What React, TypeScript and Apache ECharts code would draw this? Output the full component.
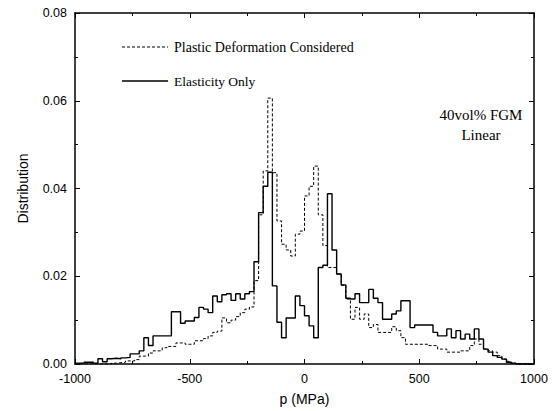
import React, { useEffect, useRef } from "react";
import * as echarts from "echarts";

// Histogram bins: 20 MPa wide, from -1000 to 1000 MPa (left edges)
const binStart = -1000;
const binWidth = 20;

const elasticityOnly: number[] = [
  0.0002, 0.0002, 0.0004, 0.0004, 0.0002, 0.0012, 0.0005, 0.0012, 0.0013, 0.0012,
  0.0014, 0.0015, 0.0023, 0.0023, 0.003, 0.006, 0.0042, 0.0064, 0.0064, 0.0064,
  0.0064, 0.0119, 0.0119, 0.0093, 0.0098, 0.0098, 0.0106, 0.0129, 0.0125, 0.0117,
  0.0155, 0.0142, 0.0158, 0.016, 0.0145, 0.016, 0.0148, 0.016, 0.0165, 0.0233,
  0.0345, 0.0405, 0.0437, 0.0178, 0.0095, 0.006, 0.0105, 0.0105, 0.0155, 0.0133,
  0.011, 0.0087, 0.006, 0.022, 0.0225, 0.0388, 0.026, 0.0205, 0.018, 0.015,
  0.0148, 0.016, 0.014, 0.014, 0.017, 0.015, 0.014, 0.0102, 0.0102, 0.0114,
  0.0121, 0.0144, 0.0144, 0.0083, 0.0089, 0.0089, 0.0089, 0.0089, 0.0072, 0.0064,
  0.0064, 0.008, 0.006, 0.0076, 0.0057, 0.0068, 0.0057, 0.008, 0.0057, 0.0034,
  0.0027, 0.0019, 0.0015, 0.0011, 0.0004, 0.0002, 0, 0, 0, 0,
];

const plasticConsidered: number[] = [
  0, 0, 0, 0, 0, 0, 0, 0, 0.0002, 0.0003,
  0.0004, 0.0007, 0.0007, 0.001, 0.0018, 0.0018, 0.0025, 0.003, 0.003, 0.0037,
  0.004, 0.004, 0.0048, 0.0048, 0.0045, 0.0045, 0.0053, 0.0053, 0.0058, 0.0064,
  0.0072, 0.0075, 0.0105, 0.0094, 0.01, 0.0108, 0.0117, 0.0125, 0.013, 0.019,
  0.034, 0.044, 0.0606, 0.0436, 0.0326, 0.0273, 0.026, 0.0246, 0.0296, 0.0303,
  0.0383, 0.0405, 0.0451, 0.034, 0.027, 0.022, 0.022, 0.0205, 0.018, 0.0148,
  0.0102, 0.0129, 0.0102, 0.0114, 0.0083, 0.009, 0.0072, 0.0072, 0.0072, 0.0085,
  0.0076, 0.006, 0.0045, 0.0045, 0.0045, 0.0045, 0.0045, 0.0042, 0.0042, 0.0034,
  0.0034, 0.0027, 0.0027, 0.0027, 0.003, 0.003, 0.0042, 0.0057, 0.0045, 0.0034,
  0.003, 0.0027, 0.0019, 0.0011, 0.0006, 0.0002, 0, 0, 0, 0,
];

const xTicks = [-1000, -500, 0, 500, 1000];
const yTicks = [0, 0.02, 0.04, 0.06, 0.08];

const legendLabels = ["Plastic Deformation Considered", "Elasticity Only"];
const annotation = ["40vol% FGM", "Linear"];

function toSteps(values: number[]): [number, number][] {
  const pts: [number, number][] = values.map((v, i) => [binStart + i * binWidth, v]);
  pts.push([binStart + values.length * binWidth, values[values.length - 1]]);
  return pts;
}

const SANS = "'Liberation Sans', Arial, Helvetica, sans-serif";
const SERIF = "'Liberation Serif', 'Times New Roman', serif";

export default function App() {
  const ref = useRef<HTMLDivElement>(null);

  useEffect(() => {
    if (!ref.current) return;
    const chart = echarts.init(ref.current, undefined, { renderer: "svg" });

    const axisLine = { show: true, onZero: false, lineStyle: { color: "#000", width: 1.5 } };
    const axisTick = { show: true, inside: true, length: 5, lineStyle: { color: "#000", width: 1 } };
    const minorTick = { show: true, splitNumber: 2, length: 3, lineStyle: { color: "#000", width: 1 } };

    const xBase = {
      type: "value" as const,
      min: xTicks[0],
      max: xTicks[xTicks.length - 1],
      interval: 500,
      axisLine,
      axisTick,
      minorTick,
      splitLine: { show: false },
    };
    const yBase = {
      type: "value" as const,
      min: yTicks[0],
      max: yTicks[yTicks.length - 1],
      interval: 0.02,
      axisLine,
      axisTick,
      minorTick,
      splitLine: { show: false },
    };

    chart.setOption({
      animation: false,
      backgroundColor: "#fff",
      grid: { left: 75, right: 18, top: 13, bottom: 46, containLabel: false },
      xAxis: [
        {
          ...xBase,
          position: "bottom",
          axisLabel: {
            color: "#000",
            fontSize: 12.5,
            fontFamily: SANS,
            margin: 8,
            formatter: (v: number) => String(v),
          },
          name: "p (MPa)",
          nameLocation: "middle",
          nameGap: 28,
          nameTextStyle: { color: "#000", fontSize: 14, fontFamily: SANS },
        },
        { ...xBase, position: "top", axisLabel: { show: false } },
      ],
      yAxis: [
        {
          ...yBase,
          position: "left",
          axisLabel: {
            color: "#000",
            fontSize: 12.5,
            fontFamily: SANS,
            margin: 8,
            formatter: (v: number) => v.toFixed(2),
          },
          name: "Distribution",
          nameLocation: "middle",
          nameGap: 45,
          nameTextStyle: { color: "#000", fontSize: 14, fontFamily: SANS },
        },
        { ...yBase, position: "right", axisLabel: { show: false } },
      ],
      series: [
        {
          name: legendLabels[0],
          type: "line",
          step: "end",
          symbol: "none",
          data: toSteps(plasticConsidered),
          lineStyle: { color: "#000", width: 1, type: [3, 2] },
        },
        {
          name: legendLabels[1],
          type: "line",
          step: "end",
          symbol: "none",
          data: toSteps(elasticityOnly),
          lineStyle: { color: "#000", width: 1.4 },
        },
      ],
      graphic: [
        {
          type: "line",
          shape: { x1: 122, y1: 47, x2: 168, y2: 47 },
          style: { stroke: "#000", lineWidth: 1, lineDash: [3, 2] },
        },
        {
          type: "text",
          x: 174,
          y: 47,
          style: { text: legendLabels[0], font: `14px ${SERIF}`, fill: "#000", textVerticalAlign: "middle" },
        },
        {
          type: "line",
          shape: { x1: 122, y1: 81, x2: 168, y2: 81 },
          style: { stroke: "#000", lineWidth: 1.4 },
        },
        {
          type: "text",
          x: 174,
          y: 81,
          style: { text: legendLabels[1], font: `13.5px ${SERIF}`, fill: "#000", textVerticalAlign: "middle" },
        },
        {
          type: "text",
          x: 481,
          y: 115,
          style: { text: annotation[0], font: `15px ${SERIF}`, fill: "#000", textAlign: "center", textVerticalAlign: "middle" },
        },
        {
          type: "text",
          x: 481,
          y: 135,
          style: { text: annotation[1], font: `15px ${SERIF}`, fill: "#000", textAlign: "center", textVerticalAlign: "middle" },
        },
      ],
    });

    return () => chart.dispose();
  }, []);

  return (
    <div
      ref={ref}
      style={{ position: "fixed", left: 0, top: 0, width: 552, height: 411, background: "#fff" }}
    />
  );
}
